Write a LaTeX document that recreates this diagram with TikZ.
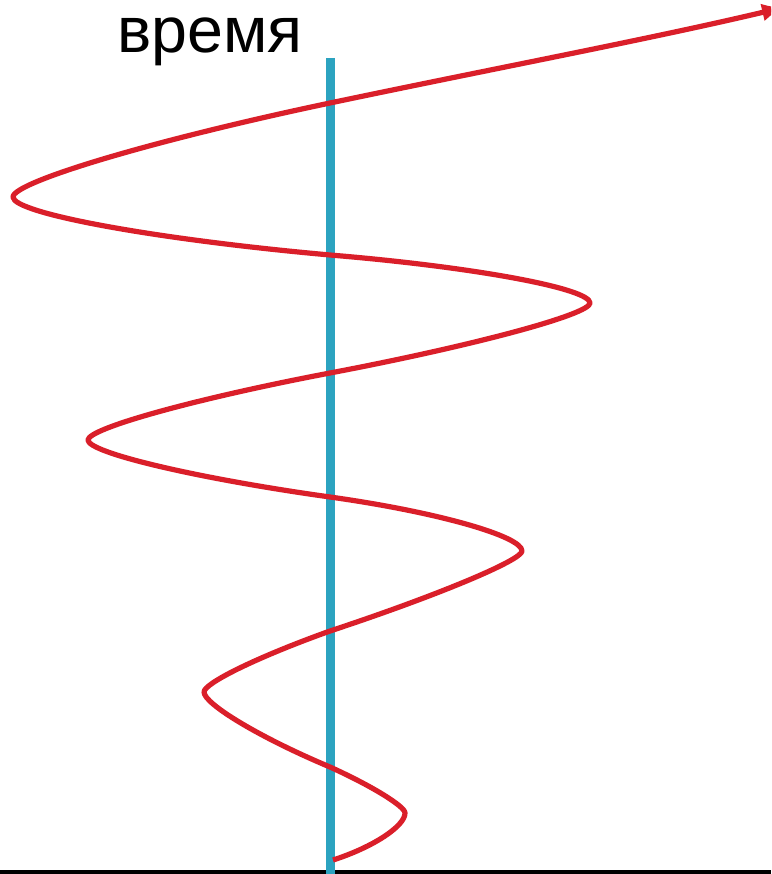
\documentclass[tikz,border=0pt]{standalone}
\usepackage{fontspec}
\setmainfont{Liberation Sans}
\usetikzlibrary{arrows.meta}
\definecolor{wavered}{HTML}{DA1F2A}
\definecolor{axisblue}{HTML}{2CA3C0}
\begin{document}
\begin{tikzpicture}[x=1pt,y=-1pt,
  wave/.style={draw=wavered,line width=5.2pt,line join=round},
  timeaxis/.style={draw=axisblue,line width=9pt},
  baseline/.style={draw=black,line width=4.5pt},
  label/.style={font=\fontsize{64.5}{64.5}\selectfont,anchor=base,inner sep=0pt}]
\useasboundingbox (0,0) rectangle (771,874);
\clip (0,0) rectangle (771,874);
\fill[white] (0,0) rectangle (771,874);
\coordinate (b1) at (0,872);
\coordinate (b2) at (771,872);
\coordinate (a1) at (330,58);
\coordinate (a2) at (330,874);
\draw[baseline] (b1) -- (b2);
\draw[timeaxis] (a1) -- (a2);
\node[label] (t) at (210,53) {время};
\draw[wave,-{Latex[length=22pt,width=18pt]}]
  (333,860) .. controls (372.7,847.3) and (405,826.2) .. (405,813)
  .. controls (405,806.3) and (371.4,785.7) .. (330,767)
  .. controls (260.4,737.8) and (204,704) .. (204,692)
  .. controls (204,683.4) and (256,657.5) .. (330,631)
  .. controls (436,596) and (522,560.2) .. (522,551)
  .. controls (522,536.1) and (436,511.8) .. (330,497)
  .. controls (196.4,478.3) and (88,452.7) .. (88,440)
  .. controls (88,428.4) and (196.4,398.4) .. (330,373)
  .. controls (473.5,345.7) and (590,314.4) .. (590,303)
  .. controls (590,288.4) and (473.5,266.9) .. (330,255)
  .. controls (155,239.3) and (13,213.3) .. (13,197)
  .. controls (13,182) and (155,139.8) .. (330,103)
  .. controls (500,67.3) and (650,39) .. (784,7.3);
\end{tikzpicture}
\end{document}
